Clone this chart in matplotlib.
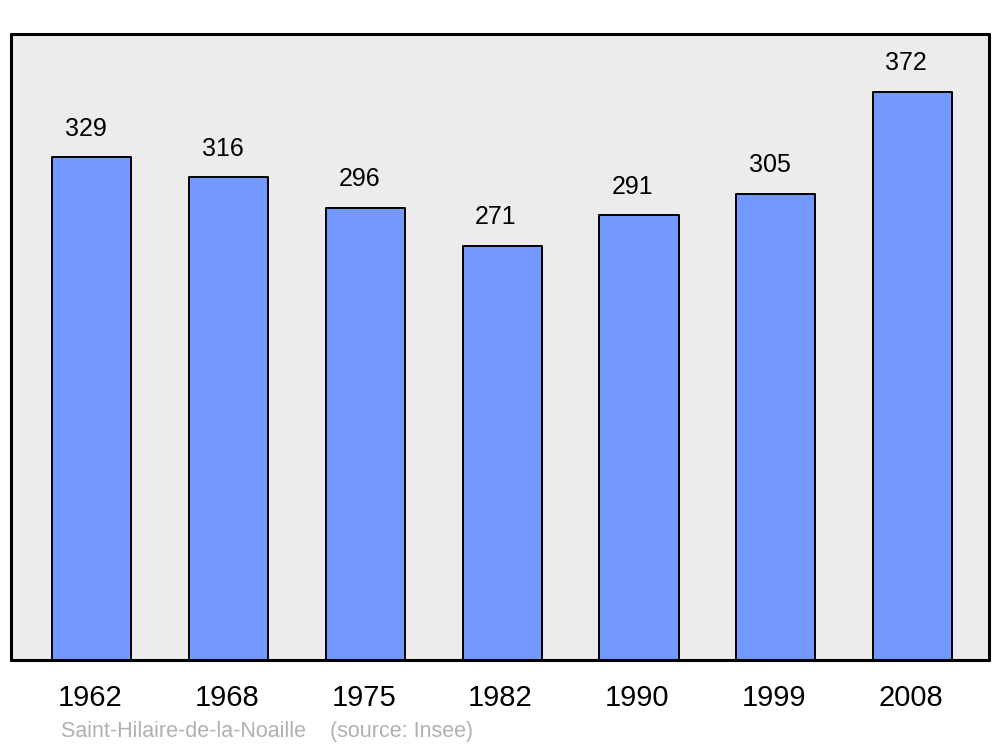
import matplotlib.pyplot as plt
import numpy as np

plt.rcParams['font.family'] = ['Liberation Sans', 'DejaVu Sans']

years = ['1962', '1968', '1975', '1982', '1990', '1999', '2008']
population = [329, 316, 296, 271, 291, 305, 372]
commune = 'Saint-Hilaire-de-la-Noaille'
source = '(source: Insee)'

fig = plt.figure(figsize=(10, 7.47), dpi=100)
ax = fig.add_axes([0.011, 0.1165, 0.978, 0.838])
ax.set_facecolor('#ececec')

x = np.arange(len(years))
bars = ax.bar(x, population, width=0.578, color='#7399ff', edgecolor='black',
              linewidth=1.4, joinstyle='round', zorder=2)

for xi, val in zip(x, population):
    ax.annotate(str(val), (xi, val), xytext=(-4.5, 20.5), textcoords='offset points',
                ha='center', va='center', fontsize=18)

ax.set_xlim(-0.592, len(years) - 1 + 0.559)
ax.set_ylim(0, 409.7)
ax.set_yticks([])
ax.set_xticks(x - 0.012)
ax.set_xticklabels(years, fontsize=21)
ax.tick_params(axis='x', length=0, pad=17.5)

for sp in ax.spines.values():
    sp.set_linewidth(2.2)
    sp.set_capstyle('round')
    sp.set_joinstyle('round')

fig.text(0.061, 1 - 731.5 / 747, commune + '    ' + source, color='#b0b0b0',
         fontsize=15.5, va='center', ha='left')

fig.savefig('out.png', dpi=100)
